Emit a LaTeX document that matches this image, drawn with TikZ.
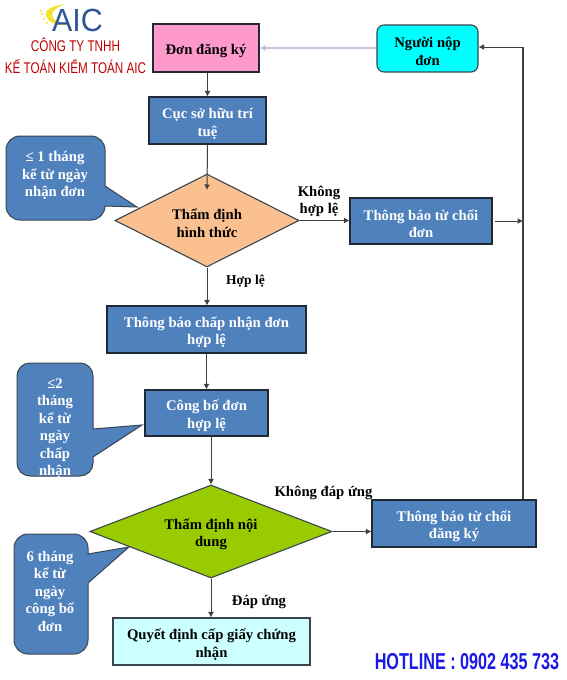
\documentclass[tikz,border=0pt]{standalone}
\usepackage{fontspec}
\setmainfont{Liberation Serif}
\newfontfamily\lsans{Liberation Sans}
\usetikzlibrary{shapes.geometric,arrows.meta}
\definecolor{bluebox}{HTML}{4F81BD}
\definecolor{edge}{HTML}{1F2A36}
\definecolor{softedge}{HTML}{3A4550}
\definecolor{linegray}{HTML}{404040}
\definecolor{pinkfill}{HTML}{FF99CC}
\definecolor{cyanfill}{HTML}{00FFFF}
\definecolor{lightcyan}{HTML}{CCFFFF}
\definecolor{peach}{HTML}{FAC08F}
\definecolor{leaf}{HTML}{99CC00}
\definecolor{logoblue}{HTML}{2F5597}
\definecolor{logored}{HTML}{C00000}
\definecolor{logoyellow}{HTML}{F2E22E}
\definecolor{hotblue}{HTML}{1A1AE6}
\definecolor{lilac}{HTML}{CCC0DA}
\definecolor{purpletip}{HTML}{8064A2}
\newcommand\tb{\rule{0pt}{16.5pt}}
\tikzset{
  lbl/.style={font=\fontsize{14.7}{17.5}\selectfont\bfseries,align=center,inner sep=0pt},
  boxbase/.style={draw=edge,line width=1.1pt,inner sep=0pt,lbl},
  bluenode/.style={boxbase,fill=bluebox,text=white},
  softbox/.style={boxbase,draw=softedge},
  decision/.style={softbox,diamond},
  callout/.style={draw=softedge,line width=1pt,fill=bluebox},
  calltext/.style={lbl,text=white},
  conn/.style={draw=linegray,line width=1pt,-{Latex[length=5.5pt,width=6pt]}},
  plainconn/.style={draw=linegray,line width=1.1pt},
  tag/.style={lbl,text=black},
  redlogo/.style={inner sep=0pt,text=logored,font=\lsans\fontsize{15.5}{16}\selectfont,xscale=.755},
}
\begin{document}
\begin{tikzpicture}[x=1pt,y=-1pt]
\useasboundingbox[fill=white] (0,0) rectangle (566,680);
% logo
\fill[logoyellow] (65,4) .. controls (52,6) and (44,10) .. (46,16) .. controls (48,22) and (56,26) .. (68,25) .. controls (60,23) and (52,20) .. (52,15) .. controls (52,11) and (57,7) .. (65,4) -- cycle;
\foreach \px/\py in {41/11,42/14,44/19,47/23}{\fill[logoyellow] (\px,\py) circle (1.1pt);}
\node[name=logoA,inner sep=0pt,text=logoblue,font=\lsans\fontsize{32}{32}\selectfont,xscale=.95] at (77.5,20) {AIC};
\node[redlogo] (logo1) at (75.5,45) {CÔNG TY TNHH};
\node[redlogo] (logo2) at (75.5,66.5) {KẾ TOÁN KIỂM TOÁN AIC};
% callouts
\path[callout] (105,186) [rounded corners=14pt] -- (105,136) -- (6,136) -- (6,220) -- (105,220) [sharp corners] -- (105,206) -- (137,207) -- cycle;
\node[calltext] (c1) at (55,172.5) {\tb≤ 1 tháng\\kể từ ngày\\nhận đơn};
\path[callout] (93,429) [rounded corners=13pt] -- (93,363) -- (17,363) -- (17,476) -- (93,476) [sharp corners] -- (93,457) -- (142,425) -- cycle;
\node[calltext] (c2) at (55,425) {\tb≤2\\tháng\\kể từ\\ngày\\chấp\\nhận};
\path[callout] (88,554) [rounded corners=14pt] -- (88,534) -- (14,534) -- (14,654) -- (88,654) [sharp corners] -- (88,583) -- (129,547) -- cycle;
\node[calltext] (c3) at (50,588) {\tb 6 tháng\\kể từ\\ngày\\công bố\\đơn};
% boxes
\node[boxbase,fill=pinkfill,minimum width=106pt,minimum height=48pt] (dk) at (206,48) {\tb Đơn đăng ký};
\node[bluenode,minimum width=117pt,minimum height=47pt] (cuc) at (207.5,120.5) {\tb Cục sở hữu trí\\tuệ};
\node[decision,shape aspect=2,fill=peach,minimum width=184pt,minimum height=93pt] (d1) at (207,220.5) {\tb Thẩm định\\hình thức};
\node[softbox,rectangle,rounded corners=7pt,fill=cyanfill,minimum width=101pt,minimum height=47pt] (nop) at (427.5,48.5) {\tb Người nộp\\đơn};
\node[bluenode,minimum width=142pt,minimum height=46pt] (tc1) at (421,221) {\tb Thông báo từ chối\\đơn};
\node[bluenode,minimum width=199pt,minimum height=47pt] (cn) at (206.5,329.5) {\tb Thông báo chấp nhận đơn\\hợp lệ};
\node[bluenode,minimum width=123pt,minimum height=46pt] (cb) at (206.5,413) {\tb Công bố đơn\\hợp lệ};
\node[decision,shape aspect=2.6,fill=leaf,minimum width=242pt,minimum height=93pt] (d2) at (211,531.5) {\tb Thẩm định nội\\dung};
\node[softbox,fill=lightcyan,minimum width=197pt,minimum height=47pt] (qd) at (211.5,641.5) {\tb Quyết định cấp giấy chứng\\nhận};
\node[bluenode,minimum width=164pt,minimum height=47pt] (tc2) at (454,523.5) {\tb Thông báo từ chối\\đăng ký};
% connectors
\coordinate (d1in) at (207,190);
\coordinate (purplemid) at (272,48);
\coordinate (corner) at (523,47);
\coordinate (j1) at (523,221);
\coordinate (tc1out) at (495,221);
\draw[conn] (dk.south-|cuc.north) -- (cuc.north);
\draw[conn] (cuc.south) -- (d1in);
\draw[conn] (d1.south) -- (cn.north-|d1.south);
\draw[conn] (cn.south-|cb.north) -- (cb.north);
\draw[conn] (cb.south-|d2.north) -- (d2.north);
\draw[conn] (d2.south) -- (qd.north-|d2.south);
\draw[conn] (d1.east) -- (d1.east-|tc1.west);
\draw[conn] (d2.east) -- (d2.east-|tc2.west);
\draw[draw=lilac,line width=1.2pt] (nop.west|-purplemid) -- (purplemid);
\draw[draw=lilac,line width=1.2pt,-{Latex[length=6pt,width=6pt,fill=purpletip]}] (purplemid) -- (purplemid-|dk.east);
\draw[plainconn] (tc2.north-|corner) -- (corner);
\draw[conn] (corner) -- (corner-|nop.east);
\draw[conn] (tc1out) -- (j1);
% labels
\node[tag] (l1) at (319,198.5) {\tb Không\\hợp lệ};
\node[tag,font=\fontsize{13.5}{15}\selectfont\bfseries] (l2) at (245.5,278) {\tb Hợp lệ};
\node[tag] (l3) at (323.5,489.5) {\tb Không đáp ứng};
\node[tag] (l4) at (259,598.5) {\tb Đáp ứng};
\node[inner sep=0pt,text=hotblue,font=\lsans\bfseries\fontsize{23}{24}\selectfont,xscale=.704] (hot) at (467,662) {HOTLINE : 0902 435 733};
\end{tikzpicture}
\end{document}
